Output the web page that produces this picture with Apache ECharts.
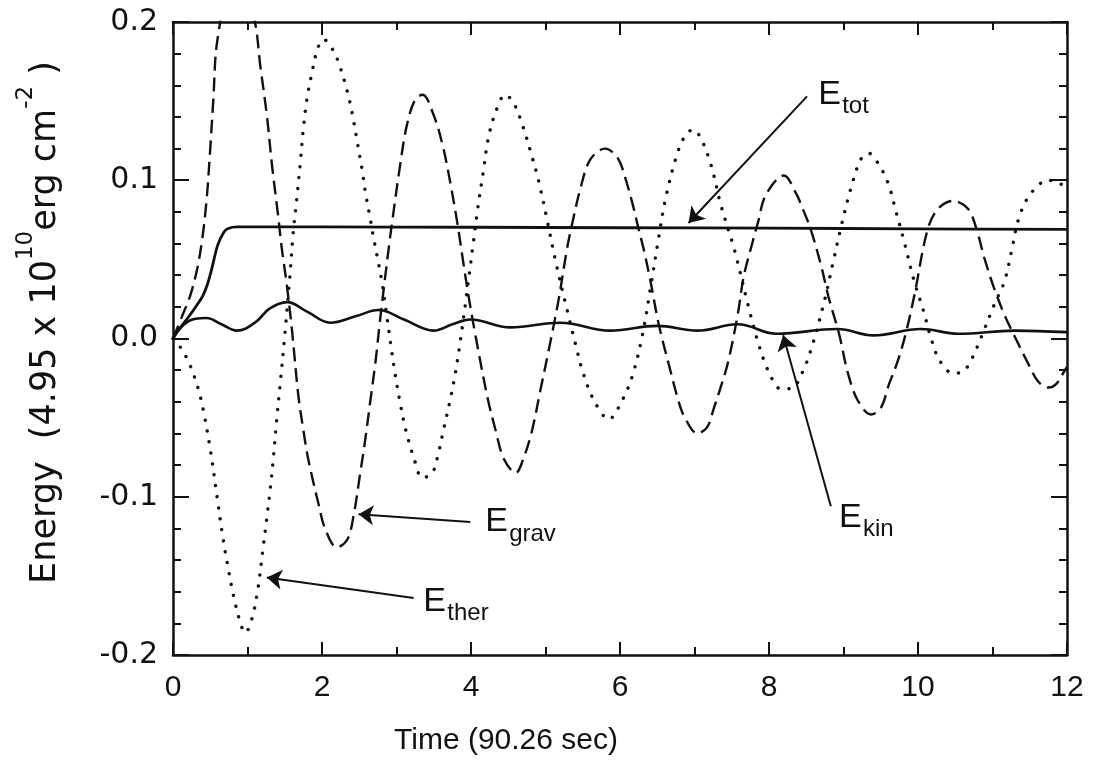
<!DOCTYPE html>
<html>
<head>
<meta charset="utf-8">
<script src="https://cdn.jsdelivr.net/npm/echarts@6/dist/echarts.min.js"></script>
<style>
  html, body { margin: 0; padding: 0; background: #fff; }
  #chart { width: 1096px; height: 773px; }
</style>
</head>
<body>
<div id="chart"></div>
<script>
// Energy components of the oscillating layer, in units of 4.95e10 erg cm^-2,
// against time in units of 90.26 s.

const tGrav = [0, 0.13, 0.23, 0.32, 0.39, 0.45, 0.5, 0.54, 0.6, 0.86, 1.1, 1.17, 1.26, 1.33, 1.41, 1.46, 1.53, 1.6, 1.68, 1.75, 1.81, 1.88, 1.95, 2.04, 2.2, 2.34, 2.42, 2.51, 2.58, 2.65, 2.72, 2.78, 2.89, 2.94, 3.05, 3.14, 3.25, 3.35, 3.5, 3.62, 3.72, 3.82, 3.9, 3.97, 4.06, 4.22, 4.33, 4.44, 4.6, 4.71, 4.82, 4.93, 5.04, 5.17, 5.29, 5.36, 5.47, 5.6, 5.8, 5.97, 6.08, 6.18, 6.24, 6.32, 6.41, 6.52, 6.68, 6.77, 6.86, 7.04, 7.17, 7.26, 7.35, 7.45, 7.58, 7.66, 7.78, 7.85, 7.96, 8.2, 8.36, 8.47, 8.56, 8.7, 8.8, 8.94, 9.06, 9.19, 9.37, 9.5, 9.61, 9.73, 9.84, 9.95, 10.13, 10.27, 10.47, 10.67, 10.78, 10.89, 11.02, 11.16, 11.29, 11.48, 11.61, 11.75, 11.85, 11.96, 12];
const eGrav = [0, 0.015, 0.027, 0.043, 0.062, 0.087, 0.12, 0.15, 0.19, 0.245, 0.2, 0.173, 0.141, 0.109, 0.078, 0.057, 0.033, 0.004, -0.035, -0.058, -0.075, -0.09, -0.104, -0.12, -0.132, -0.127, -0.113, -0.086, -0.064, -0.039, -0.014, 0.012, 0.055, 0.073, 0.11, 0.135, 0.151, 0.154, 0.141, 0.122, 0.099, 0.072, 0.047, 0.026, 0.002, -0.037, -0.058, -0.076, -0.085, -0.075, -0.058, -0.033, -0.008, 0.023, 0.057, 0.073, 0.095, 0.113, 0.12, 0.114, 0.1, 0.083, 0.071, 0.056, 0.036, 0.009, -0.021, -0.037, -0.049, -0.06, -0.056, -0.044, -0.031, -0.015, 0.015, 0.039, 0.061, 0.073, 0.091, 0.103, 0.092, 0.08, 0.069, 0.046, 0.026, 0.003, -0.022, -0.039, -0.048, -0.044, -0.029, -0.014, 0.004, 0.027, 0.069, 0.082, 0.087, 0.082, 0.07, 0.051, 0.032, 0.015, 0.002, -0.016, -0.027, -0.031, -0.029, -0.021, -0.018];

const tTher = [0, 0.12, 0.23, 0.34, 0.41, 0.5, 0.6, 0.67, 0.74, 0.81, 0.9, 0.97, 1.06, 1.14, 1.21, 1.26, 1.31, 1.35, 1.39, 1.44, 1.5, 1.57, 1.61, 1.66, 1.71, 1.75, 1.8, 1.87, 1.94, 2.02, 2.15, 2.24, 2.34, 2.41, 2.47, 2.54, 2.58, 2.65, 2.69, 2.74, 2.81, 2.87, 2.92, 2.98, 3.05, 3.12, 3.23, 3.35, 3.48, 3.56, 3.63, 3.72, 3.79, 3.85, 3.92, 4.03, 4.09, 4.17, 4.23, 4.33, 4.46, 4.57, 4.69, 4.8, 4.91, 5.03, 5.13, 5.3, 5.4, 5.5, 5.65, 5.85, 6.03, 6.17, 6.3, 6.42, 6.52, 6.61, 6.75, 6.86, 6.98, 7.08, 7.22, 7.35, 7.53, 7.73, 7.85, 7.95, 8.06, 8.16, 8.32, 8.47, 8.59, 8.74, 8.86, 8.97, 9.1, 9.23, 9.34, 9.46, 9.6, 9.7, 9.81, 9.95, 10.07, 10.17, 10.28, 10.47, 10.6, 10.71, 10.85, 11.02, 11.16, 11.25, 11.36, 11.52, 11.75, 11.9, 12];
const eTher = [0, -0.007, -0.017, -0.032, -0.046, -0.07, -0.103, -0.126, -0.145, -0.162, -0.179, -0.186, -0.177, -0.158, -0.132, -0.113, -0.093, -0.074, -0.052, -0.028, 0.002, 0.04, 0.065, 0.088, 0.112, 0.133, 0.152, 0.169, 0.183, 0.189, 0.182, 0.172, 0.156, 0.141, 0.125, 0.106, 0.093, 0.075, 0.064, 0.052, 0.034, 0.014, -0.003, -0.022, -0.041, -0.057, -0.075, -0.088, -0.085, -0.073, -0.058, -0.039, -0.022, -0.004, 0.02, 0.06, 0.082, 0.107, 0.126, 0.143, 0.154, 0.149, 0.135, 0.118, 0.099, 0.073, 0.05, 0.016, -0.003, -0.021, -0.039, -0.051, -0.039, -0.023, 0.002, 0.035, 0.064, 0.088, 0.114, 0.127, 0.132, 0.127, 0.11, 0.085, 0.057, 0.019, -0.002, -0.016, -0.027, -0.032, -0.031, -0.019, -0.003, 0.023, 0.048, 0.071, 0.095, 0.113, 0.117, 0.111, 0.098, 0.081, 0.062, 0.036, 0.018, 0.001, -0.013, -0.022, -0.021, -0.014, 0.001, 0.021, 0.036, 0.054, 0.077, 0.092, 0.1, 0.098, 0.095];

const tTot = [0, 0.05, 0.15, 0.23, 0.32, 0.4, 0.46, 0.52, 0.6, 0.68, 0.74, 0.86, 1, 2, 4, 6, 8, 10, 12];
const eTot = [0, 0.004, 0.01, 0.015, 0.021, 0.027, 0.034, 0.044, 0.059, 0.067, 0.0695, 0.0705, 0.0705, 0.0705, 0.0703, 0.07, 0.0697, 0.0693, 0.069];

const tKin = [0, 0.15, 0.3, 0.45, 0.65, 0.86, 1.1, 1.3, 1.53, 1.8, 2.11, 2.45, 2.76, 3.1, 3.5, 3.75, 3.99, 4.53, 5.2, 5.87, 6.5, 7.04, 7.58, 8.1, 8.92, 9.4, 10.04, 10.54, 11.3, 12];
const eKin = [0, 0.009, 0.0125, 0.013, 0.009, 0.005, 0.01, 0.019, 0.023, 0.017, 0.01, 0.014, 0.018, 0.012, 0.005, 0.009, 0.012, 0.007, 0.01, 0.005, 0.008, 0.005, 0.009, 0.003, 0.006, 0.002, 0.006, 0.003, 0.005, 0.004];

// axis ticks
const xTicks = [0, 2, 4, 6, 8, 10, 12];
const yTicks = [-0.2, -0.1, 0.0, 0.1, 0.2];

// curve labels: name, subscript, label anchor [t, E], arrow tail [t, E], arrow head [t, E]
const noteMain = ['E', 'E', 'E', 'E'];
const noteSub = ['tot', 'grav', 'ther', 'kin'];
const noteAt = [[8.66, 0.154], [4.19, -0.116], [3.36, -0.166], [8.94, -0.113]];
const noteFrom = [[8.51, 0.153], [3.99, -0.116], [3.23, -0.164], [8.83, -0.106]];
const noteTo = [[6.92, 0.073], [2.49, -0.111], [1.26, -0.151], [8.19, 0.002]];

const INK = '#111';
const FONT = "'Liberation Sans', 'DejaVu Sans', sans-serif";
const WIDE = "'DejaVu Sans', 'Liberation Sans', sans-serif";

const zip = (xs, ys) => xs.map((x, i) => [x, ys[i]]);

const chart = echarts.init(document.getElementById('chart'), null, { renderer: 'canvas' });

function axisCommon(showLabels, isX) {
  return {
    type: 'value',
    min: isX ? xTicks[0] : yTicks[0],
    max: isX ? xTicks[xTicks.length - 1] : yTicks[yTicks.length - 1],
    interval: isX ? 2 : 0.1,
    axisLine: { show: true, onZero: false, lineStyle: { color: INK, width: 2.5 } },
    axisTick: { show: true, inside: true, length: isX ? 13 : 16, lineStyle: { color: INK, width: 2 } },
    minorTick: { show: true, splitNumber: isX ? 2 : 5, length: 8, lineStyle: { color: INK, width: 2 } },
    splitLine: { show: false },
    minorSplitLine: { show: false },
    axisLabel: { show: showLabels }
  };
}

const option = {
  animation: false,
  backgroundColor: '#fff',
  textStyle: { fontFamily: FONT, color: INK },
  grid: { left: 173, right: 29, top: 22, bottom: 118, containLabel: false },
  xAxis: [
    Object.assign(axisCommon(true, true), {
      position: 'bottom',
      axisLabel: { show: true, margin: 18, fontSize: 30, color: INK, fontFamily: FONT },
      name: 'Time (90.26 sec)',
      nameLocation: 'middle',
      nameGap: 71,
      nameTextStyle: { fontSize: 30, color: INK, fontFamily: FONT, padding: [0, 228, 0, 0] }
    }),
    Object.assign(axisCommon(false, true), { position: 'top' })
  ],
  yAxis: [
    Object.assign(axisCommon(true, false), {
      position: 'left',
      axisLabel: {
        show: true, margin: 15, fontSize: 30, color: INK, fontFamily: WIDE,
        formatter: v => (Math.abs(v) < 1e-9 ? 0 : v).toFixed(1)
      },
      name: '{m|Energy  (4.95 x 10}{sup|10}{m|erg cm}{sup|-2}{m| )}',
      nameLocation: 'middle',
      nameGap: 110,
      nameTextStyle: {
        color: INK, fontFamily: WIDE,
        padding: [0, 0, 0, 32],
        rich: {
          m: { fontSize: 35, lineHeight: 48, verticalAlign: 'bottom', color: INK, fontFamily: WIDE },
          sup: { fontSize: 23, lineHeight: 23, verticalAlign: 'top', color: INK, fontFamily: WIDE }
        }
      }
    }),
    Object.assign(axisCommon(false, false), { position: 'right' })
  ],
  series: [
    {
      name: 'E_grav', type: 'line', data: zip(tGrav, eGrav),
      smooth: 0.35, showSymbol: false, symbol: 'none', clip: true,
      lineStyle: { color: INK, width: 2.4, type: [14, 7] },
      z: 3
    },
    {
      name: 'E_ther', type: 'line', data: zip(tTher, eTher),
      smooth: 0.35, showSymbol: false, symbol: 'none', clip: true,
      lineStyle: { color: INK, width: 3.4, type: [0.1, 11], cap: 'round' },
      z: 3
    },
    {
      name: 'E_tot', type: 'line', data: zip(tTot, eTot),
      smooth: 0.35, showSymbol: false, symbol: 'none', clip: true,
      lineStyle: { color: INK, width: 2.8 },
      z: 4,
      markLine: {
        silent: true,
        symbol: ['none', 'arrow'],
        symbolSize: 15,
        label: { show: false },
        lineStyle: { color: INK, width: 2, type: 'solid' },
        emphasis: { disabled: true },
        data: noteFrom.map((f, i) => [{ coord: f }, { coord: noteTo[i] }])
      }
    },
    {
      name: 'E_kin', type: 'line', data: zip(tKin, eKin),
      smooth: 0.4, showSymbol: false, symbol: 'none', clip: true,
      lineStyle: { color: INK, width: 2.6 },
      z: 4
    }
  ]
};

chart.setOption(option);

// Curve name labels with subscripts, anchored in data coordinates.
const graphics = [];
noteAt.forEach((p, i) => {
  const [px, py] = chart.convertToPixel({ xAxisIndex: 0, yAxisIndex: 0 }, p);
  graphics.push({
    type: 'text', x: px, y: py, silent: true,
    style: { text: noteMain[i], font: '34px ' + FONT, fill: INK, textAlign: 'left', textVerticalAlign: 'middle' }
  });
  graphics.push({
    type: 'text', x: px + 24, y: py + 12, silent: true,
    style: { text: noteSub[i], font: '24px ' + FONT, fill: INK, textAlign: 'left', textVerticalAlign: 'middle' }
  });
});
chart.setOption({ graphic: graphics });
</script>
</body>
</html>
